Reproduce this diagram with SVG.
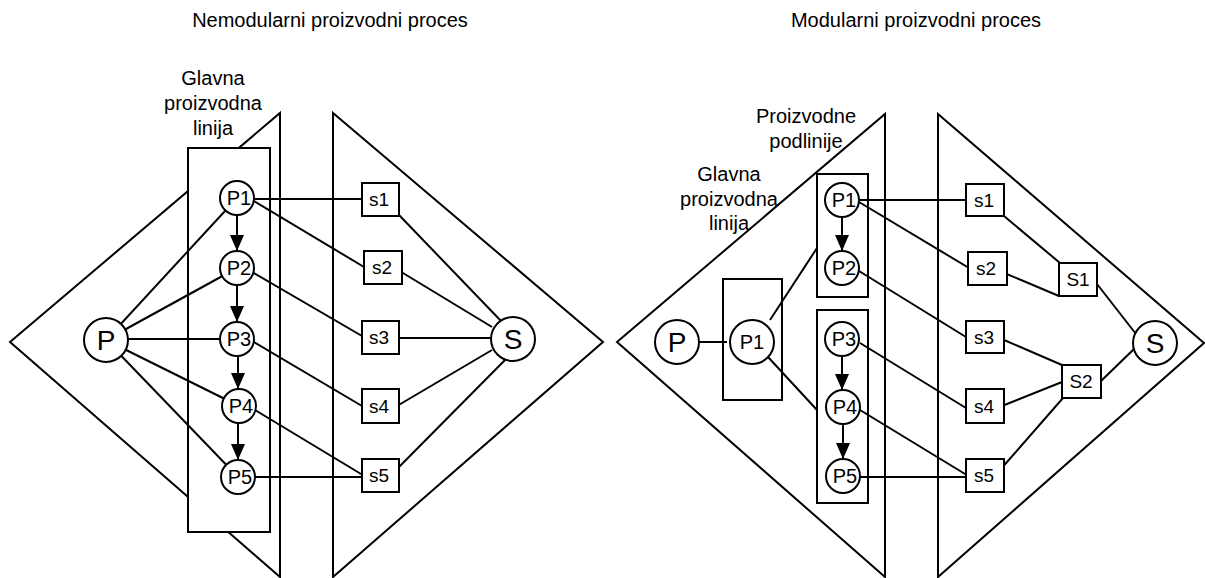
<svg xmlns="http://www.w3.org/2000/svg" width="1205" height="578" viewBox="0 0 1205 578">
<style>
.sh{fill:none;stroke:#000;stroke-width:2;stroke-linejoin:miter}
.box{fill:#fff;stroke:#000;stroke-width:2}
.nd{fill:#fff;stroke:#000;stroke-width:2}
.ln{fill:none;stroke:#000;stroke-width:2}
.t{font-family:"Liberation Sans",Arial,sans-serif;fill:#000;text-anchor:middle}
.lbl{font-size:20px}
.grp{font-size:20px}
.big{font-size:28px}
.sm{font-size:19px}
.ttl{font-size:20px}
</style>
<defs>
<marker id="ah" viewBox="0 0 16 14" refX="16" refY="7" markerWidth="16" markerHeight="14" markerUnits="userSpaceOnUse" orient="auto">
<path d="M0,0 L16,7 L0,14 z" fill="#000"/>
</marker>
</defs>
<rect width="1205" height="578" fill="#fff"/>

<text class="t ttl" x="330" y="27">Nemodularni proizvodni proces</text>
<text class="t ttl" x="916" y="27">Modularni proizvodni proces</text>

<g id="left-shapes">
<polygon class="sh" points="10,342 280,113 280,577"/>
<polygon class="sh" points="333,113 603,342 333,577"/>
</g>
<g id="right-shapes">
<polygon class="sh" points="617,342 885,114 885,577"/>
<polygon class="sh" points="938,114 1204,343 938,577"/>
</g>

<g id="L-main-line">
<rect class="box" x="188" y="148" width="82" height="384"/>
<text class="t grp" x="213" y="85">Glavna</text>
<text class="t grp" x="213" y="110">proizvodna</text>
<text class="t grp" x="213" y="135">linija</text>
</g>

<g id="R-main-line">
<rect class="box" x="723" y="279" width="59" height="121"/>
<text class="t grp" x="729" y="181">Glavna</text>
<text class="t grp" x="729" y="206">proizvodna</text>
<text class="t grp" x="729" y="230">linija</text>
</g>
<g id="R-sub-lines">
<rect class="box" x="817" y="174" width="51" height="123"/>
<rect class="box" x="817" y="310" width="51" height="193"/>
<text class="t grp" x="806" y="123">Proizvodne</text>
<text class="t grp" x="806" y="148">podlinije</text>
</g>

<g id="connectors">
<!-- left -->
<line class="ln" x1="106" y1="340" x2="237" y2="198"/>
<line class="ln" x1="106" y1="340" x2="237" y2="268"/>
<line class="ln" x1="106" y1="339" x2="237" y2="339"/>
<line class="ln" x1="106" y1="340" x2="239" y2="406"/>
<line class="ln" x1="106" y1="340" x2="238" y2="477"/>
<line class="ln" x1="237" y1="215" x2="237" y2="251" marker-end="url(#ah)"/>
<line class="ln" x1="237" y1="285" x2="237" y2="322" marker-end="url(#ah)"/>
<line class="ln" x1="238" y1="356" x2="238" y2="389" marker-end="url(#ah)"/>
<line class="ln" x1="238" y1="423" x2="238" y2="460" marker-end="url(#ah)"/>
<line class="ln" x1="254" y1="199" x2="362" y2="199"/>
<line class="ln" x1="254" y1="201" x2="364" y2="267"/>
<line class="ln" x1="252" y1="272" x2="362" y2="336"/>
<line class="ln" x1="254" y1="342" x2="362" y2="406"/>
<line class="ln" x1="255" y1="410" x2="366" y2="477"/>
<line class="ln" x1="255" y1="477" x2="362" y2="477"/>
<line class="ln" x1="399" y1="215" x2="502" y2="322"/>
<line class="ln" x1="398" y1="270" x2="492" y2="327"/>
<line class="ln" x1="399" y1="338" x2="491" y2="338"/>
<line class="ln" x1="397" y1="406" x2="492" y2="350"/>
<line class="ln" x1="396" y1="470" x2="506" y2="359"/>
<!-- right -->
<line class="ln" x1="699" y1="342" x2="727" y2="342"/>
<line class="ln" x1="770" y1="320" x2="817" y2="248"/>
<line class="ln" x1="768" y1="357" x2="817" y2="410"/>
<line class="ln" x1="842" y1="217" x2="842" y2="251" marker-end="url(#ah)"/>
<line class="ln" x1="842" y1="356" x2="842" y2="390" marker-end="url(#ah)"/>
<line class="ln" x1="843" y1="424" x2="843" y2="459" marker-end="url(#ah)"/>
<line class="ln" x1="859" y1="200" x2="966" y2="200"/>
<line class="ln" x1="859" y1="202" x2="969" y2="268"/>
<line class="ln" x1="859" y1="271" x2="966" y2="337"/>
<line class="ln" x1="860" y1="343" x2="966" y2="408"/>
<line class="ln" x1="860" y1="410" x2="970" y2="477"/>
<line class="ln" x1="860" y1="477" x2="966" y2="477"/>
<line class="ln" x1="1004" y1="216" x2="1060" y2="263"/>
<line class="ln" x1="1002" y1="272" x2="1059" y2="296"/>
<line class="ln" x1="1097" y1="284" x2="1136" y2="334"/>
<line class="ln" x1="1004" y1="340" x2="1062" y2="365"/>
<line class="ln" x1="1002" y1="406" x2="1062" y2="382"/>
<line class="ln" x1="1000" y1="470" x2="1063" y2="398"/>
<line class="ln" x1="1101" y1="381" x2="1134" y2="349"/>
</g>

<!-- left nodes -->
<g id="L-P"><circle class="nd" cx="106" cy="340" r="22"/><text class="t big" x="106" y="350">P</text></g>
<g id="L-P1"><circle class="nd" cx="237" cy="198" r="17"/><text class="t lbl" x="239" y="205">P1</text></g>
<g id="L-P2"><circle class="nd" cx="237" cy="268" r="17"/><text class="t lbl" x="239" y="275">P2</text></g>
<g id="L-P3"><circle class="nd" cx="237" cy="339" r="17"/><text class="t lbl" x="239" y="346">P3</text></g>
<g id="L-P4"><circle class="nd" cx="239" cy="406" r="17"/><text class="t lbl" x="241" y="413">P4</text></g>
<g id="L-P5"><circle class="nd" cx="238" cy="477" r="17"/><text class="t lbl" x="240" y="484">P5</text></g>
<g id="L-s1"><rect class="nd" x="362" y="183" width="37" height="33"/><text class="t sm" x="379" y="206">s1</text></g>
<g id="L-s2"><rect class="nd" x="364" y="251" width="38" height="33"/><text class="t sm" x="382" y="274">s2</text></g>
<g id="L-s3"><rect class="nd" x="362" y="321" width="37" height="33"/><text class="t sm" x="379" y="344">s3</text></g>
<g id="L-s4"><rect class="nd" x="362" y="389" width="37" height="34"/><text class="t sm" x="379" y="413">s4</text></g>
<g id="L-s5"><rect class="nd" x="362" y="459" width="37" height="33"/><text class="t sm" x="379" y="482">s5</text></g>
<g id="L-S"><circle class="nd" cx="513" cy="339" r="22"/><text class="t big" x="513" y="349">S</text></g>

<!-- right nodes -->
<g id="R-P"><circle class="nd" cx="677" cy="342" r="22"/><text class="t big" x="677" y="352">P</text></g>
<g id="R-P1main"><circle class="nd" cx="752" cy="342" r="22"/><text class="t lbl" x="752" y="349">P1</text></g>
<g id="R-P1"><circle class="nd" cx="842" cy="200" r="17"/><text class="t lbl" x="844" y="207">P1</text></g>
<g id="R-P2"><circle class="nd" cx="842" cy="268" r="17"/><text class="t lbl" x="844" y="275">P2</text></g>
<g id="R-P3"><circle class="nd" cx="842" cy="339" r="17"/><text class="t lbl" x="844" y="346">P3</text></g>
<g id="R-P4"><circle class="nd" cx="843" cy="407" r="17"/><text class="t lbl" x="845" y="414">P4</text></g>
<g id="R-P5"><circle class="nd" cx="843" cy="476" r="17"/><text class="t lbl" x="845" y="483">P5</text></g>
<g id="R-s1"><rect class="nd" x="966" y="184" width="38" height="32"/><text class="t sm" x="984" y="207">s1</text></g>
<g id="R-s2"><rect class="nd" x="968" y="252" width="39" height="33"/><text class="t sm" x="986" y="275">s2</text></g>
<g id="R-s3"><rect class="nd" x="966" y="321" width="38" height="32"/><text class="t sm" x="984" y="344">s3</text></g>
<g id="R-s4"><rect class="nd" x="966" y="389" width="38" height="34"/><text class="t sm" x="984" y="413">s4</text></g>
<g id="R-s5"><rect class="nd" x="966" y="459" width="38" height="33"/><text class="t sm" x="984" y="482">s5</text></g>
<g id="R-S1"><rect class="nd" x="1059" y="263" width="38" height="33"/><text class="t sm" x="1078" y="286">S1</text></g>
<g id="R-S2"><rect class="nd" x="1062" y="365" width="39" height="33"/><text class="t sm" x="1081" y="388">S2</text></g>
<g id="R-S"><circle class="nd" cx="1155" cy="343" r="22"/><text class="t big" x="1155" y="353">S</text></g>
</svg>
